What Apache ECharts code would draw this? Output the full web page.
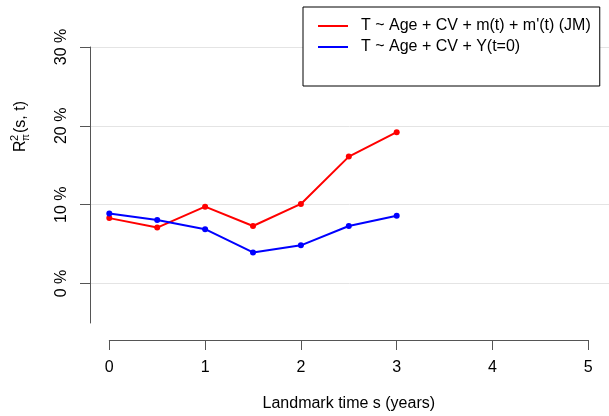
<!DOCTYPE html>
<html>
<head>
<meta charset="utf-8">
<script src="https://cdn.jsdelivr.net/npm/echarts@6/dist/echarts.min.js"></script>
<style>
  html, body { margin: 0; padding: 0; background: #fff; }
  #chart { width: 609px; height: 416px; }
</style>
</head>
<body>
<div id="chart"></div>
<script>
// landmark times (years) and the R2 values (%)
const landmarks = [0, 0.5, 1, 1.5, 2, 2.5, 3];
const jmValues = [8.3, 7.1, 9.75, 7.3, 10.1, 16.1, 19.2];
const baseValues = [8.9, 8.05, 6.9, 3.95, 4.85, 7.3, 8.6];
const seriesNames = ["T ~ Age + CV + m(t) + m'(t) (JM)", 'T ~ Age + CV + Y(t=0)'];
const yTicks = [0, 10, 20, 30];
const xTicks = [0, 1, 2, 3, 4, 5];

const font = 'Liberation Sans, Arial, sans-serif';
const axisColor = '#555';

const chart = echarts.init(document.getElementById('chart'));

function pairs(xs, ys) {
  return xs.map((x, i) => [x, ys[i]]);
}

// plot region spans -5 % .. 30 %, 47px .. 323px
const plotLeft = 90, plotWidth = 519;
const plotTop = 47, plotHeight = 276, yLow = -5, yHigh = 30;
const pxPerUnit = plotHeight / (yHigh - yLow);
const tickLen = 10;

const option = {
  animation: false,
  grid: [
    // plotting region
    { left: plotLeft, top: plotTop, width: plotWidth, height: plotHeight },
    // separate x axis, R style
    { left: 109.3, top: 300, width: 479, height: 40 },
    // labelled part of the y axis (0 % .. 30 %)
    { left: plotLeft, top: plotTop, width: plotWidth,
      height: (yTicks[yTicks.length - 1] - yTicks[0]) * pxPerUnit }
  ],
  xAxis: [
    { gridIndex: 0, type: 'value', min: -0.2015, max: 5.216, show: false },
    {
      gridIndex: 1, type: 'value', min: xTicks[0], max: xTicks[xTicks.length - 1], interval: 1,
      position: 'bottom',
      axisLine: { show: true, onZero: false, lineStyle: { color: axisColor, width: 1 } },
      axisTick: { show: true, length: tickLen, lineStyle: { color: axisColor, width: 1 } },
      axisLabel: { margin: 20, fontSize: 16, color: '#000', fontFamily: font },
      splitLine: { show: false },
      name: 'Landmark time s (years)',
      nameLocation: 'middle',
      nameGap: 56,
      nameTextStyle: { fontSize: 16, color: '#000', fontFamily: font }
    },
    // pixel-like scale for the y tick marks: 0 = axis line, 1 = right edge
    { gridIndex: 2, type: 'value', min: 0, max: 1, show: false }
  ],
  yAxis: [
    {
      gridIndex: 0, type: 'value', min: yLow, max: yHigh,
      axisLine: { show: true, onZero: false, lineStyle: { color: axisColor, width: 1 } },
      axisTick: { show: false },
      axisLabel: { show: false },
      splitLine: { show: false }
    },
    { gridIndex: 1, type: 'value', show: false, min: 0, max: 1 },
    {
      gridIndex: 2, type: 'value', min: yTicks[0], max: yTicks[yTicks.length - 1], interval: 10,
      axisLine: { show: false },
      axisTick: { show: true, length: tickLen, lineStyle: { color: axisColor, width: 1 } },
      axisLabel: { rotate: 90, margin: 20, fontSize: 16, color: '#000', fontFamily: font,
        formatter: v => v + ' %' },
      splitLine: { show: true, lineStyle: { color: '#e4e4e4', width: 1 } }
    }
  ],
  legend: {
    data: seriesNames,
    orient: 'vertical',
    left: 303,
    top: 7,
    padding: [11, 9, 31, 14],
    itemGap: 5,
    itemWidth: 30,
    itemHeight: 14,
    backgroundColor: '#fff',
    borderColor: '#000',
    borderWidth: 1,
    borderRadius: 0,
    itemStyle: { opacity: 0 },
    textStyle: { fontSize: 16, color: '#000', fontFamily: font, padding: [0, 0, 0, 8] }
  },
  graphic: [
    {
      type: 'group',
      x: 21, y: 152,
      rotation: Math.PI / 2,
      children: [
        { type: 'text', x: 0, y: 0,
          style: { text: 'R', fontSize: 16, fontFamily: font, fill: '#000', verticalAlign: 'middle' } },
        { type: 'text', x: 11, y: -6,
          style: { text: '2', fontSize: 11, fontFamily: font, fill: '#000', verticalAlign: 'middle' } },
        { type: 'text', x: 11, y: 5,
          style: { text: 'π', fontSize: 10, fontFamily: font, fill: '#000', verticalAlign: 'middle' } },
        { type: 'text', x: 19, y: 0,
          style: { text: '(s, t)', fontSize: 16, fontFamily: font, fill: '#000', verticalAlign: 'middle' } }
      ]
    }
  ],
  series: [
    {
      // x axis base line, drawn through the x axis scale
      type: 'line',
      xAxisIndex: 1, yAxisIndex: 1,
      data: [],
      clip: false,
      silent: true,
      markLine: {
        silent: true,
        symbol: ['none', 'none'],
        label: { show: false },
        lineStyle: { color: axisColor, type: 'solid', width: 1 },
        data: [[{ coord: [xTicks[0], 0] }, { coord: [xTicks[xTicks.length - 1], 0] }]]
      }
    },
    {
      // y tick marks, drawn through the y axis scale
      type: 'line',
      xAxisIndex: 2, yAxisIndex: 2,
      data: [],
      clip: false,
      silent: true,
      markLine: {
        silent: true,
        symbol: ['none', 'none'],
        label: { show: false },
        lineStyle: { color: axisColor, type: 'solid', width: 1 },
        data: yTicks.map(v => [{ coord: [-tickLen / plotWidth, v] }, { coord: [0, v] }])
      }
    },
    {
      name: seriesNames[0],
      type: 'line',
      xAxisIndex: 0, yAxisIndex: 0,
      data: pairs(landmarks, jmValues),
      color: '#ff0000',
      symbol: 'circle',
      symbolSize: 6,
      lineStyle: { width: 2, color: '#ff0000' },
      itemStyle: { color: '#ff0000' },
      z: 3
    },
    {
      name: seriesNames[1],
      type: 'line',
      xAxisIndex: 0, yAxisIndex: 0,
      data: pairs(landmarks, baseValues),
      color: '#0000ff',
      symbol: 'circle',
      symbolSize: 6,
      lineStyle: { width: 2, color: '#0000ff' },
      itemStyle: { color: '#0000ff' },
      z: 3
    }
  ]
};

chart.setOption(option);
</script>
</body>
</html>
